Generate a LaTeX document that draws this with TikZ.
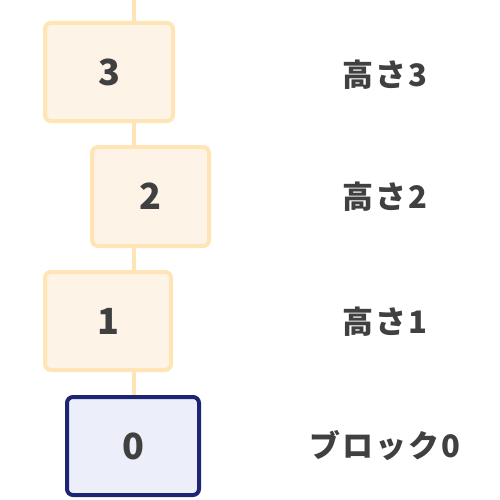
\documentclass[tikz,border=0pt]{standalone}
\usepackage{fontspec}
\setmainfont{Noto Sans CJK JP}
\newfontfamily\lblfont{Noto Sans CJK JP}[LetterSpace=6]
\definecolor{boxfill}{HTML}{FDF3E7}
\definecolor{boxline}{HTML}{FFE4B5}
\definecolor{basefill}{HTML}{ECEFFA}
\definecolor{baseline}{HTML}{1C2473}
\definecolor{txt}{HTML}{404040}
\tikzset{
  blk/.style={draw=boxline, fill=boxfill, line width=4pt, rounded corners=6pt, text=txt, font=\fontsize{36}{36}\selectfont\bfseries},
  baseblk/.style={blk, draw=baseline, fill=basefill},
  lbl/.style={text=txt, font=\lblfont\fontsize{31}{31}\selectfont\bfseries},
  link/.style={draw=boxline, line width=4pt}
}
\begin{document}
\begin{tikzpicture}[x=1pt,y=-1pt]
\useasboundingbox (0,0) rectangle (500,500);
\coordinate (top) at (134,0);
\node[blk, minimum width=128pt, minimum height=98pt] (b3) at (109,72) {3};
\node[blk, minimum width=117pt, minimum height=99pt] (b2) at (150.5,196.5) {2};
\node[blk, minimum width=126pt, minimum height=98pt] (b1) at (108,321) {1};
\node[baseblk, minimum width=132pt, minimum height=98pt] (b0) at (133,446) {0};
\draw[link] (top) -- (top |- b3.north);
\draw[link] (b3.south -| top) -- (b2.north -| top);
\draw[link] (b2.south -| top) -- (b1.north -| top);
\draw[link] (b1.south -| top) -- (b0.north -| top);
\node[lbl] (l3) at (385,75) {高さ3};
\node[lbl] (l2) at (385,197) {高さ2};
\node[lbl] (l1) at (385,322) {高さ1};
\node[lbl] (l0) at (385,446) {ブロック0};
\end{tikzpicture}
\end{document}
